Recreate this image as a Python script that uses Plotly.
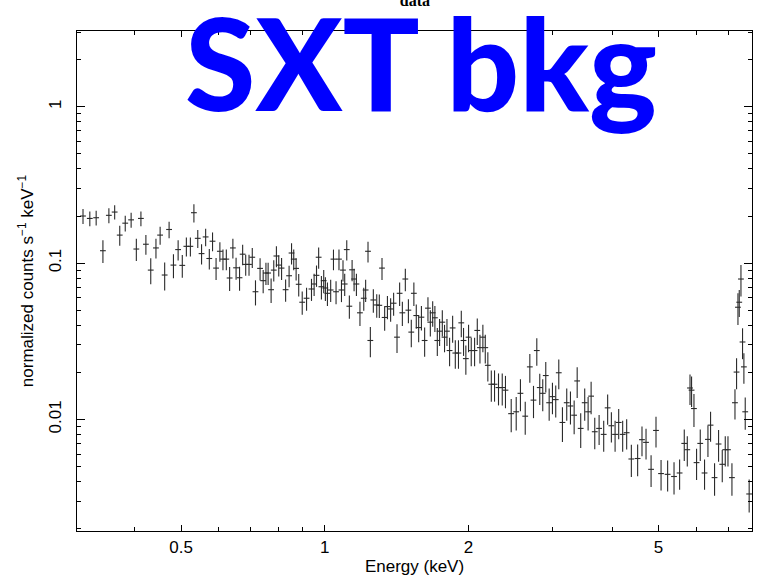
import plotly.graph_objects as go

# Energy bin centres (keV)
energy = [
    0.3116, 0.322, 0.332, 0.343, 0.353, 0.363, 0.372, 0.382, 0.393, 0.403,
    0.412, 0.422, 0.432, 0.443, 0.452, 0.462, 0.472, 0.482, 0.493, 0.503,
    0.513, 0.523, 0.532, 0.542, 0.552, 0.563, 0.573, 0.582, 0.592, 0.603,
    0.612, 0.622, 0.632, 0.642, 0.652, 0.663, 0.673, 0.683, 0.694, 0.705,
    0.716, 0.732, 0.743, 0.753, 0.761, 0.772, 0.782, 0.792, 0.801, 0.812,
    0.828, 0.842, 0.852, 0.861, 0.871, 0.882, 0.897, 0.916, 0.938, 0.950,
    0.961, 0.971, 0.984, 0.995, 1.003, 1.013, 1.029, 1.043, 1.056, 1.071,
    1.084, 1.092, 1.101, 1.112, 1.126, 1.141, 1.152, 1.165, 1.185, 1.207,
    1.218, 1.232, 1.246, 1.264, 1.285, 1.301, 1.318, 1.335, 1.353, 1.374,
    1.394, 1.417, 1.435, 1.454, 1.475, 1.497, 1.518, 1.537, 1.555, 1.573,
    1.594, 1.619, 1.645, 1.664, 1.683, 1.701, 1.721, 1.740, 1.763, 1.782,
    1.803, 1.826, 1.853, 1.877, 1.906, 1.932, 1.953, 1.975, 2.001, 2.027,
    2.060, 2.087, 2.114, 2.144, 2.169, 2.196, 2.233, 2.268, 2.312, 2.354,
    2.391, 2.458, 2.518, 2.570, 2.630, 2.689, 2.737, 2.781, 2.821, 2.862,
    2.904, 2.952, 2.999, 3.047, 3.092, 3.147, 3.213, 3.271, 3.330, 3.379,
    3.437, 3.504, 3.562, 3.614, 3.678, 3.756, 3.840, 3.914, 3.985, 4.057,
    4.128, 4.208, 4.290, 4.388, 4.523, 4.619, 4.710, 4.826, 4.942, 5.064,
    5.227, 5.391, 5.538, 5.664, 5.747, 5.823, 5.867, 5.935, 6.010, 6.118,
    6.246, 6.349, 6.430, 6.555, 6.683, 6.803, 6.902, 6.993, 7.128, 7.233,
    7.289, 7.338, 7.384, 7.445, 7.502, 7.551, 7.600, 7.746,
]

# normalized counts s^-1 keV^-1
rate = [
    0.200, 0.193, 0.195, 0.120, 0.202, 0.212, 0.151, 0.180, 0.189, 0.123,
    0.193, 0.132, 0.0902, 0.125, 0.151, 0.0839, 0.164, 0.0971, 0.122, 0.0967,
    0.128, 0.128, 0.210, 0.144, 0.115, 0.147, 0.107, 0.138, 0.0929, 0.119,
    0.106, 0.106, 0.0803, 0.125, 0.0933, 0.0806, 0.114, 0.0981, 0.0981, 0.109,
    0.0656, 0.0925, 0.0772, 0.0864, 0.0864, 0.0676, 0.0902, 0.111, 0.0971, 0.0929,
    0.0676, 0.0830, 0.116, 0.106, 0.0925, 0.0732, 0.0562, 0.0596, 0.0683, 0.0735,
    0.0835, 0.109, 0.0706, 0.0772, 0.0693, 0.0641, 0.0673, 0.106, 0.0656, 0.106,
    0.0673, 0.0902, 0.0735, 0.122, 0.0530, 0.0906, 0.0791, 0.0735, 0.0481, 0.0596,
    0.0673, 0.119, 0.0320, 0.0581, 0.0540, 0.0537, 0.0929, 0.0449, 0.0527, 0.0509,
    0.0554, 0.0336, 0.0641, 0.0481, 0.0791, 0.0500, 0.0362, 0.0641, 0.0462, 0.0387,
    0.0451, 0.0320, 0.0515, 0.0419, 0.0481, 0.0447, 0.0320, 0.0367, 0.0419, 0.0336,
    0.0367, 0.0276, 0.0385, 0.0266, 0.0266, 0.0415, 0.0320, 0.0245, 0.0336, 0.0276,
    0.0276, 0.0371, 0.0288, 0.0336, 0.0288, 0.0222, 0.0168, 0.0168, 0.0160, 0.0160,
    0.0154, 0.0109, 0.0112, 0.0147, 0.0105, 0.0217, 0.0133, 0.0276, 0.0160, 0.0147,
    0.0191, 0.0128, 0.0140, 0.0134, 0.0199, 0.00957, 0.0128, 0.0122, 0.01065, 0.01764,
    0.00877, 0.0128, 0.0112, 0.0141, 0.00835, 0.00877, 0.00803, 0.01187, 0.00912, 0.00803,
    0.00957, 0.00803, 0.00823, 0.00559, 0.00563, 0.00743, 0.00714, 0.00480, 0.00851, 0.00451,
    0.00446, 0.00432, 0.00455, 0.00703, 0.00641, 0.0159, 0.0154, 0.01175, 0.00530, 0.00703,
    0.00455, 0.00746, 0.00920, 0.00425, 0.00697, 0.00517, 0.00641, 0.00641, 0.00425, 0.0128,
    0.0201, 0.0522, 0.0562, 0.0791, 0.0313, 0.0217, 0.0112, 0.00334,
]

# 1-sigma errors on the rate
rate_err = [
    0.022, 0.021, 0.021, 0.020, 0.022, 0.022, 0.022, 0.021, 0.021, 0.020,
    0.021, 0.019, 0.017, 0.018, 0.020, 0.017, 0.020, 0.017, 0.018, 0.016,
    0.018, 0.018, 0.028, 0.019, 0.017, 0.019, 0.016, 0.019, 0.015, 0.017,
    0.016, 0.016, 0.014, 0.018, 0.015, 0.014, 0.017, 0.015, 0.015, 0.016,
    0.012, 0.015, 0.013, 0.014, 0.014, 0.012, 0.014, 0.017, 0.015, 0.015,
    0.011, 0.013, 0.018, 0.016, 0.015, 0.012, 0.0095, 0.0100, 0.011, 0.012,
    0.013, 0.017, 0.012, 0.013, 0.012, 0.011, 0.011, 0.016, 0.011, 0.016,
    0.011, 0.014, 0.012, 0.018, 0.0090, 0.014, 0.013, 0.012, 0.0085, 0.0100,
    0.011, 0.018, 0.0070, 0.0100, 0.0092, 0.0092, 0.015, 0.0080, 0.0090, 0.0088,
    0.0093, 0.0070, 0.011, 0.0085, 0.013, 0.0087, 0.0072, 0.011, 0.0082, 0.0075,
    0.0080, 0.0068, 0.0090, 0.0080, 0.0090, 0.0085, 0.0065, 0.0072, 0.0080, 0.0067,
    0.0072, 0.0057, 0.0075, 0.0055, 0.0055, 0.0080, 0.0065, 0.0052, 0.0067, 0.0057,
    0.0057, 0.0072, 0.0060, 0.0067, 0.0060, 0.0047, 0.0038, 0.0038, 0.0037, 0.0037,
    0.0036, 0.0026, 0.0027, 0.0034, 0.0025, 0.0045, 0.0031, 0.0055, 0.0036, 0.0034,
    0.0042, 0.0030, 0.0032, 0.0031, 0.0043, 0.0024, 0.0030, 0.0029, 0.0026, 0.0039,
    0.0022, 0.0030, 0.0027, 0.0033, 0.0019, 0.0019, 0.0018, 0.0026, 0.0020, 0.0018,
    0.0021, 0.0018, 0.0018, 0.0013, 0.0013, 0.0016, 0.0016, 0.0011, 0.0019, 0.0010,
    0.0010, 0.0010, 0.0010, 0.0016, 0.0014, 0.0035, 0.0034, 0.0028, 0.0012, 0.0016,
    0.0010, 0.0017, 0.0020, 0.0010, 0.0016, 0.0012, 0.0014, 0.0014, 0.0010, 0.0028,
    0.0045, 0.012, 0.011, 0.018, 0.0070, 0.0048, 0.0026, 0.0008,
]

x_major = [0.5, 1, 2, 5]
x_major_text = ["0.5", "1", "2", "5"]
x_minor = [0.3, 0.4, 0.6, 0.7, 0.8, 0.9, 3, 4, 6, 7]
y_major = [0.01, 0.1, 1]
y_major_text = ["0.01", "0.1", "1"]
y_minor = [0.002, 0.003, 0.004, 0.005, 0.006, 0.007, 0.008, 0.009,
           0.02, 0.03, 0.04, 0.05, 0.06, 0.07, 0.08, 0.09,
           0.2, 0.3, 0.4, 0.5, 0.6, 0.7, 0.8, 0.9, 2, 3]

fig = go.Figure()
fig.add_trace(go.Scatter(
    x=energy, y=rate, mode="markers",
    marker=dict(size=1, color="rgba(0,0,0,0)"),
    error_y=dict(type="data", array=rate_err, visible=True,
                 color="#2a2a2a", thickness=1.1, width=0),
    error_x=dict(type="percent", value=1.4, visible=True,
                 color="#2a2a2a", thickness=1.1, width=0),
    showlegend=False, hoverinfo="skip",
))

lab_font = dict(family="Liberation Sans, Arial, sans-serif", size=17, color="black")

fig.update_layout(
    width=760, height=579,
    margin=dict(l=77, r=7, t=31, b=46),
    paper_bgcolor="white", plot_bgcolor="white",
    title=dict(text="<b>data</b>", x=0.546, xanchor="center", y=1.0, yanchor="middle",
               font=dict(family="Liberation Serif, serif", size=16, color="black")),
    xaxis=dict(
        type="log", range=[-0.519, 0.895],
        tickvals=x_major, ticktext=x_major_text,
        ticks="inside", ticklen=6, tickwidth=1, tickcolor="black",
        minor=dict(tickvals=x_minor, ticks="inside", ticklen=4, tickwidth=1, tickcolor="black"),
        showline=True, linecolor="black", linewidth=1.2, mirror="allticks",
        showgrid=False, zeroline=False, tickfont=lab_font,
        title=dict(text="Energy (keV)", font=lab_font, standoff=4),
    ),
    yaxis=dict(
        type="log", range=[-2.713, 0.484],
        tickvals=y_major, ticktext=y_major_text, tickangle=-90,
        ticklabelstandoff=8,
        ticks="inside", ticklen=8, tickwidth=1, tickcolor="black",
        minor=dict(tickvals=y_minor, ticks="inside", ticklen=4, tickwidth=1, tickcolor="black"),
        showline=True, linecolor="black", linewidth=1.2, mirror="allticks",
        showgrid=False, zeroline=False, tickfont=lab_font,
        title=dict(text="normalized counts s<sup>−1</sup> keV<sup>−1</sup>",
                   font=dict(family="Liberation Sans, Arial, sans-serif", size=17, color="black"), standoff=8),
    ),
    annotations=[dict(
        text="SXT bkg", xref="paper", yref="paper", x=0.51, y=0.94,
        xanchor="center", yanchor="middle", showarrow=False,
        font=dict(family="Comic Sans MS, Lato, sans-serif", size=128, color="#0000ff", weight=900),
    )],
)

fig.write_html("out.html")
